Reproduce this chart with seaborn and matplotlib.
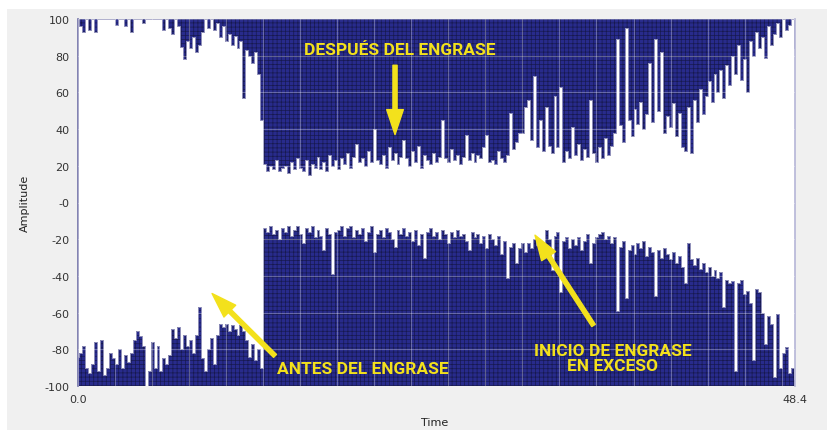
import numpy as np
import seaborn as sns
import matplotlib.pyplot as plt
from matplotlib.ticker import MultipleLocator
from matplotlib.patches import Rectangle

# envelope, one value every 0.2 s (0 .. 48.4 s)
# upper trace is filled from upper_env up to +100
upper_env = [100, 96, 93, 100, 94, 100, 93, 100, 100, 100, 100, 100, 100, 97, 100, 100,
             96, 100, 93, 100, 100, 100, 98, 100, 100, 100, 100, 100, 100, 94, 100,
             95, 92, 100, 96, 85, 78, 88, 84, 90, 82, 86, 93, 100, 95, 100, 94, 98, 90,
             96, 88, 92, 86, 91, 84, 88, 57, 83, 80, 76, 82, 70, 45,
             21, 17, 20, 18, 23, 17, 19,
             20, 16, 22, 18, 24, 19, 17, 23, 15, 21,
             19, 25, 18, 22, 17, 26, 20, 23, 18, 24,
             21, 27, 19, 25, 32, 22, 24, 20, 28, 22,
             40, 23, 21, 26, 19, 30, 23, 27, 21, 25,
             34, 24, 20, 28, 22, 31, 19, 26, 23, 21,
             27, 22, 25, 45, 24, 22, 29, 23, 26, 21,
             25, 37, 23, 27, 22, 26, 24, 30, 37, 22,
             23, 21, 28, 24, 22, 26, 49, 29, 33, 38,
             38, 52, 56, 34, 69, 30, 45, 28, 52, 31,
             27, 58, 30, 63, 22, 28, 24, 41, 26, 32,
             23, 29, 25, 56, 27, 22, 30, 24, 35, 26,
             31, 38, 89, 42, 33, 95, 45, 36, 51, 43,
             55, 40, 48, 76, 44, 89, 50, 82, 38, 47,
             41, 54, 36, 49, 30, 28, 52, 27, 56, 44,
             62, 48, 58, 66, 55, 70, 60, 72, 57, 75,
             64, 80, 70, 86, 67, 78, 60, 88, 80, 93,
             84, 90, 79, 96, 86, 92, 98, 90, 100, 94,
             97, 100, 84]

# lower trace is filled from -100 up to lower_env
lower_env = [-84, -82, -78, -90, -93, -88, -76, -92, -75, -94,
             -90, -82, -85, -88, -80, -90, -83, -87, -82, -75,
             -70, -73, -78, -100, -92, -76, -90, -78, -92, -85,
             -88, -83, -69, -74, -68, -80, -72, -78, -75, -82,
             -72, -57, -85, -92, -80, -74, -88, -72, -66, -68,
             -66, -70, -67, -69, -72, -67, -70, -75, -84, -77,
             -86, -80, -90,
             -14, -16, -13, -17, -15, -20, -14,
             -16, -13, -18, -15, -13, -17, -22, -14, -16, -13,
             -19, -15, -18, -26, -14, -17, -39, -16, -15, -13,
             -18, -14, -13, -19, -15, -17, -14, -21, -16, -13,
             -27, -17, -15, -19, -14, -16, -20, -24, -15, -17,
             -14, -18, -16, -21, -15, -23, -17, -30, -16, -14,
             -18, -16, -20, -15, -17, -22, -16, -19, -15, -18,
             -17, -21, -26, -16, -19, -17, -22, -18, -25, -17,
             -20, -23, -18, -28, -21, -41, -24, -22, -33, -25,
             -22,
             -27, -22, -25, -20, -23, -21, -24, -15, -20, -37,
             -18, -16, -49, -21, -19, -25, -20, -23, -19, -26,
             -21, -17, -33, -22, -19, -17, -16, -20, -18, -22,
             -19, -59, -24, -21, -52, -26, -23, -28, -22, -25,
             -21, -29, -24, -27, -51, -26, -30, -25, -28, -31,
             -27, -33, -29, -35, -44, -22, -31, -34, -30, -36,
             -33, -38, -35, -40, -37, -41, -38, -57, -42, -44,
             -43, -92, -44, -42, -50, -48, -55, -86, -47, -49,
             -60, -77, -62, -66, -95, -61, -90, -82, -79, -93,
             -90, -96]

t_end = 48.4
x_ticks = [0, 48.4]
x_labels = ["0.0", "48.4"]
y_ticks = [100, 80, 60, 40, 20, 0, -20, -40, -60, -80, -100]
y_labels = ["100", "80", "60", "40", "20", "-0", "-20", "-40", "-60", "-80", "-100"]

t_up = np.linspace(0, t_end, len(upper_env))
t_lo = np.linspace(0, t_end, len(lower_env))

sns.set_theme(style="white")
plt.rcParams["font.family"] = ["DejaVu Sans"]
plt.rcParams["hatch.linewidth"] = 0.5

navy = "#282b8c"
yellow = "#f3e11c"

fig = plt.figure(figsize=(8.27, 4.31), dpi=100, facecolor="#f0f0f0")
ax = fig.add_axes([78 / 827, 44 / 431, 717 / 827, 367 / 431])
ax.set_facecolor("white")

ax.fill_between(t_up, upper_env, 100, step="mid", facecolor=navy,
                edgecolor="#17194f", hatch="++++", linewidth=0)
ax.fill_between(t_lo, -100, lower_env, step="mid", facecolor=navy,
                edgecolor="#17194f", hatch="++++", linewidth=0)
sns.lineplot(x=t_up, y=upper_env, ax=ax, color="#8e8eb8", lw=0.7, drawstyle="steps-mid")
sns.lineplot(x=t_lo, y=lower_env, ax=ax, color="#8e8eb8", lw=0.7, drawstyle="steps-mid")

ax.set_xlim(0, t_end)
ax.set_ylim(-100, 100)
ax.set_xticks(x_ticks, x_labels)
ax.set_yticks(y_ticks, y_labels)
ax.xaxis.set_minor_locator(MultipleLocator(2.5))
ax.set_axisbelow(False)
ax.grid(True, which="both", color="white", alpha=0.3, lw=0.8)
ax.tick_params(axis="both", which="major", direction="out", length=4, width=1,
               color="#555555", labelsize=8, labelcolor="#333333", pad=2)
ax.tick_params(axis="x", which="minor", length=0)

for side in ["top", "bottom"]:
    ax.spines[side].set_visible(False)
ax.spines["left"].set_color("#6e6ea6")
ax.spines["left"].set_linewidth(1.2)
ax.spines["right"].set_color("#b8b8d8")

ax.set_ylabel("Amplitude", fontsize=8, color="#222222")
ax.yaxis.set_label_coords(-0.067, 0.5)
ax.set_xlabel("Time", fontsize=8, color="#222222")
ax.xaxis.set_label_coords(0.498, -0.085)

# annotations
font = dict(family=["Roboto", "DejaVu Sans"], fontweight="bold",
            fontsize=12.5, color=yellow, ha="center", va="center")
ax.text(21.7, 83.6, "DESPUÉS DEL ENGRASE", **font)
ax.text(19.2, -90.2, "ANTES DEL ENGRASE", **font)
ax.text(36.1, -84.7, "INICIO DE ENGRASE\nEN EXCESO", linespacing=1.05, **font)

arrow = dict(facecolor=yellow, edgecolor=yellow, width=3, headwidth=12,
             headlength=18, shrink=0)
ax.annotate("", xy=(21.4, 37), xytext=(21.4, 74.8), arrowprops=arrow)
ax.annotate("", xy=(9.05, -49.6), xytext=(13.3, -83.6), arrowprops=arrow)
ax.annotate("", xy=(30.85, -17.8), xytext=(34.8, -67), arrowprops=arrow)

# white margin at the top and left edge of the screenshot
fig.patches.append(Rectangle((0, 1 - 10 / 431), 1, 10 / 431, transform=fig.transFigure,
                             facecolor="white", edgecolor="none", zorder=-1))
fig.patches.append(Rectangle((0, 0), 7 / 827, 1, transform=fig.transFigure,
                             facecolor="white", edgecolor="none", zorder=-1))

fig.savefig("out.png", dpi=100, facecolor=fig.get_facecolor())
